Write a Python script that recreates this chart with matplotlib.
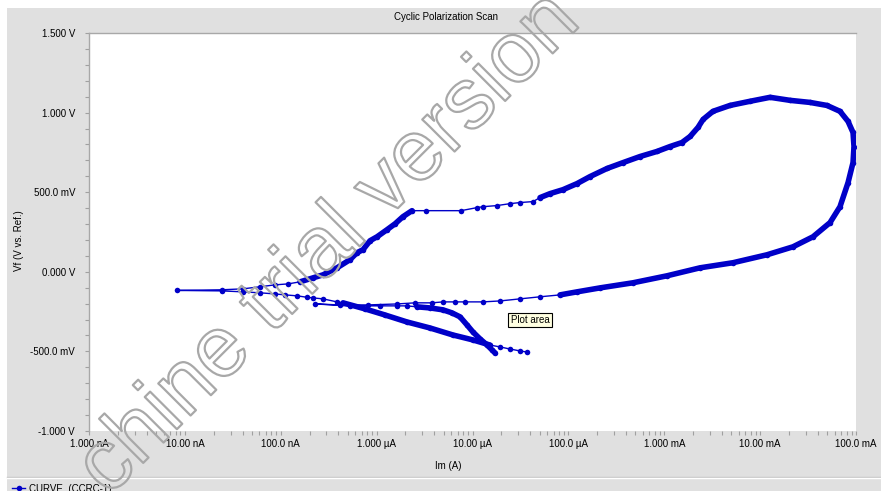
import matplotlib.pyplot as plt
import matplotlib.patheffects as pe
from matplotlib.patches import Rectangle
from matplotlib.lines import Line2D
from matplotlib.ticker import FixedLocator, FixedFormatter, MultipleLocator, LogLocator, NullFormatter

# balayage aller : courant (A) et potentiel (V)
I_aller = [3.70e-5, 3.13e-5, 2.46e-5, 1.94e-5, 1.52e-5, 1.01e-5, 6.26e-6, 3.61e-6,
           2.07e-6, 1.22e-6, 7.57e-7, 4.46e-7, 3.86e-7, 2.76e-7, 2.17e-7, 1.88e-7,
           1.48e-7, 1.11e-7, 8.7e-8, 6.08e-8, 4.04e-8, 2.44e-8, 8.3e-9, 2.44e-8,
           4.04e-8, 6.08e-8, 8.7e-8, 1.19e-7, 1.59e-7, 2.17e-7, 2.76e-7, 3.86e-7,
           5.27e-7, 6.24e-7, 7.21e-7, 8.53e-7, 1.01e-6, 1.28e-6, 1.56e-6, 1.88e-6,
           2.34e-6, 3.27e-6, 7.59e-6, 1.11e-5, 1.29e-5, 1.80e-5, 2.46e-5, 3.13e-5,
           4.27e-5, 5.06e-5, 6.43e-5, 8.79e-5, 1.23e-4, 1.68e-4, 2.53e-4, 3.72e-4,
           5.58e-4, 8.40e-4, 1.15e-3, 1.53e-3, 1.86e-3, 2.25e-3, 2.54e-3, 3.22e-3,
           4.85e-3, 7.83e-3, 1.27e-2, 2.05e-2, 3.31e-2, 4.98e-2, 6.81e-2, 8.26e-2,
           9.31e-2, 9.53e-2]
E_aller = [-0.504, -0.497, -0.485, -0.472, -0.460, -0.428, -0.397, -0.353,
           -0.315, -0.271, -0.233, -0.195, -0.189, -0.170, -0.164, -0.160,
           -0.151, -0.145, -0.139, -0.132, -0.126, -0.120, -0.117, -0.113,
           -0.107, -0.094, -0.082, -0.076, -0.063, -0.038, -0.019, 0.025,
           0.076, 0.120, 0.139, 0.195, 0.220, 0.264, 0.302, 0.346,
           0.384, 0.384, 0.384, 0.403, 0.409, 0.416, 0.428, 0.435,
           0.441, 0.466, 0.491, 0.516, 0.554, 0.598, 0.649, 0.686,
           0.724, 0.756, 0.787, 0.812, 0.850, 0.907, 0.957, 1.008,
           1.045, 1.071, 1.096, 1.077, 1.064, 1.045, 1.008, 0.945,
           0.875, 0.787]

# balayage retour
I_retour = [9.31e-2, 8.26e-2, 6.81e-2, 5.36e-2, 3.56e-2, 2.20e-2, 1.18e-2, 5.21e-3,
            2.36e-3, 1.07e-3, 4.72e-4, 2.14e-4, 1.23e-4, 8.18e-5, 5.06e-5, 3.13e-5,
            1.94e-5, 1.29e-5, 8.35e-6, 6.57e-6, 4.92e-6, 3.78e-6, 2.51e-6, 1.63e-6,
            8.13e-7, 4.15e-7, 2.28e-7, 5.27e-7, 1.08e-6, 1.63e-6, 2.07e-6, 2.64e-6,
            3.61e-6, 4.92e-6, 6.11e-6, 7.41e-6, 8.77e-6, 1.01e-5, 1.20e-5, 1.42e-5,
            1.60e-5, 1.72e-5]
E_retour = [0.686, 0.560, 0.409, 0.309, 0.220, 0.157, 0.107, 0.057,
            0.025, -0.025, -0.069, -0.101, -0.126, -0.145, -0.157, -0.170,
            -0.183, -0.189, -0.189, -0.189, -0.189, -0.195, -0.195, -0.202,
            -0.208, -0.208, -0.202, -0.214, -0.214, -0.214, -0.214, -0.220,
            -0.227, -0.239, -0.258, -0.283, -0.334, -0.378, -0.422, -0.460,
            -0.491, -0.510]

x_ticks = [1e-9, 1e-8, 1e-7, 1e-6, 1e-5, 1e-4, 1e-3, 1e-2, 1e-1]
x_labels = ["1.000 nA", "10.00 nA", "100.0 nA", "1.000 µA", "10.00 µA",
            "100.0 µA", "1.000 mA", "10.00 mA", "100.0 mA"]
y_ticks = [-1.0, -0.5, 0.0, 0.5, 1.0, 1.5]
y_labels = ["-1.000 V", "-500.0 mV", "0.000 V", "500.0 mV", "1.000 V", "1.500 V"]

titre = "Cyclic Polarization Scan"
nom_courbe = "CURVE  (CCRC-1)"

# morceaux ou les points sont tres serres (trait epais)
troncons = [(4, 12), (28, 41), (49, 88), (105, 116)]

W, H = 881, 491
bleu = "#0000c8"
gris = "#e0e0e0"
police = ["Liberation Sans", "DejaVu Sans"]
plt.rcParams["font.family"] = police
plt.rcParams["font.size"] = 7


def px(x, y):
    return x / W, 1 - y / H


fig = plt.figure(figsize=(W / 100, H / 100), dpi=100, facecolor="white")
fig.patches.append(Rectangle(px(7, H), 1 - 7 / W, 1 - 8 / H, transform=fig.transFigure,
                             facecolor=gris, edgecolor="none", zorder=-10))

ax = fig.add_axes([89 / W, 1 - 431 / H, 767 / W, 398 / H])
ax.set_facecolor("white")

I = I_aller + I_retour
E = E_aller + E_retour
ax.plot(I, E, "-", color=bleu, lw=1, marker="o", ms=4, mew=0)
for a, b in troncons:
    ax.plot(I[a:b], E[a:b], "-", color=bleu, lw=4, solid_capstyle="round",
            solid_joinstyle="round")

ax.set_xscale("log")
ax.set_xlim(1e-9, 1e-1)
ax.set_ylim(-1.0, 1.5)

ax.xaxis.set_major_locator(FixedLocator(x_ticks))
ax.xaxis.set_major_formatter(FixedFormatter(x_labels))
ax.xaxis.set_minor_locator(LogLocator(base=10, subs=range(2, 10), numticks=20))
ax.xaxis.set_minor_formatter(NullFormatter())
ax.yaxis.set_major_locator(FixedLocator(y_ticks))
ax.yaxis.set_major_formatter(FixedFormatter(y_labels))
ax.yaxis.set_minor_locator(MultipleLocator(0.1))

ax.tick_params(which="both", direction="out", length=3, width=0.8, color="#a0a0a0")
ax.tick_params(axis="x", which="major", pad=3)
ax.tick_params(axis="y", which="major", pad=7)

for cote in ["bottom", "right"]:
    ax.spines[cote].set_visible(False)
for cote in ["top", "left"]:
    ax.spines[cote].set_color("#a8a8a8")
    ax.spines[cote].set_linewidth(1)

fig.text(*px(446, 17), titre, ha="center", va="center")
fig.text(*px(448, 466), "Im (A)", ha="center", va="center")
fig.text(*px(19, 241), "Vf (V vs. Ref.)", ha="center", va="center", rotation=90)

# bulle "Plot area"
fig.text(*px(530, 320), "Plot area", ha="center", va="center",
         bbox=dict(boxstyle="square,pad=0.25", facecolor="#ffffe1", edgecolor="black", lw=0.8))

# bande de legende en bas
fig.add_artist(Line2D([7 / W, 1], [1 - 477 / H] * 2, transform=fig.transFigure,
                      color="#c4c4c4", lw=1))
fig.add_artist(Line2D([7 / W, 1], [1 - 478 / H] * 2, transform=fig.transFigure,
                      color="white", lw=1))
fig.add_artist(Line2D([12 / W, 25 / W], [1 - 488 / H] * 2, transform=fig.transFigure,
                      color=bleu, lw=1))
fig.add_artist(Line2D([18.5 / W], [1 - 488 / H], transform=fig.transFigure,
                      color=bleu, marker="o", ms=4, mew=0))
fig.text(29 / W, 1 - 492 / H, nom_courbe, ha="left", va="baseline")

# filigrane
fig.text(*px(330, 245), "chine trial version", ha="center", va="center",
         rotation=45, fontsize=62, color=(1, 1, 1, 0), zorder=20,
         path_effects=[pe.Stroke(linewidth=1.6, foreground="#a8a8a8")])

fig.savefig("out.png", dpi=100)
